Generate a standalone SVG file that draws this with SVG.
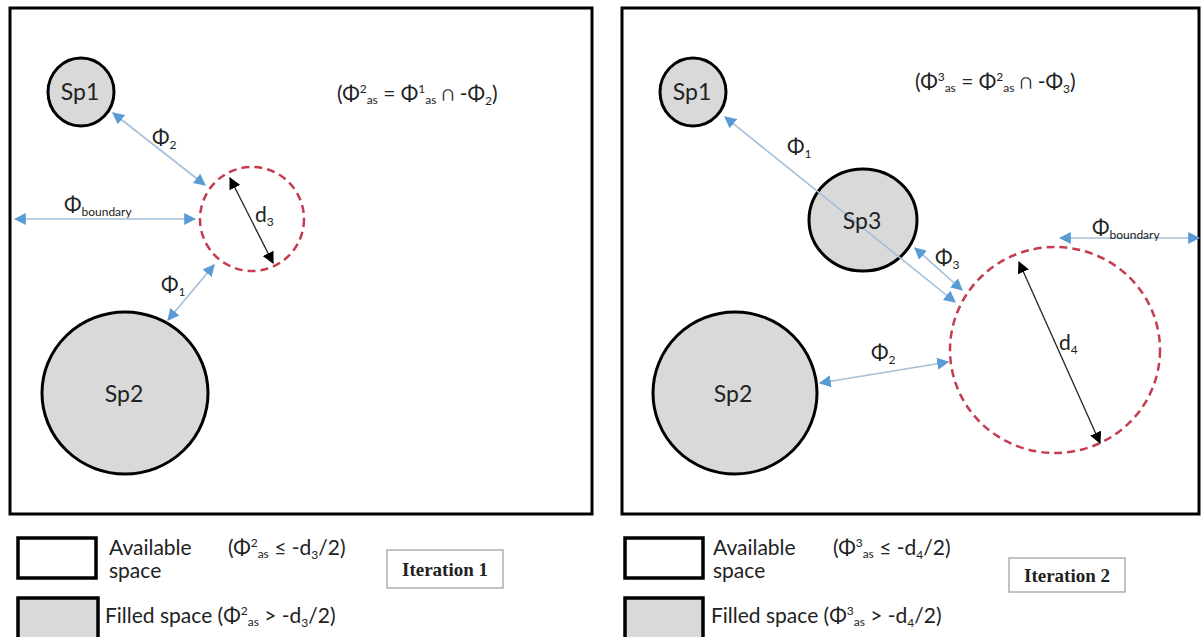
<svg xmlns="http://www.w3.org/2000/svg" width="1203" height="637" viewBox="0 0 1203 637">
<style>
.frame{fill:#fff;stroke:#000;stroke-width:3}
.sp{fill:#d9d9d9;stroke:#000;stroke-width:3}
.dash{fill:none;stroke:#c43c4f;stroke-width:2.5;stroke-dasharray:8 5}
.blue{stroke:#a3bfd9;stroke-width:1.6;fill:none;marker-start:url(#ab);marker-end:url(#ab)}
.blk{stroke:#222;stroke-width:1.3;fill:none;marker-start:url(#ak);marker-end:url(#ak)}
text{font-family:Lato,"Liberation Sans",sans-serif;fill:#222}
.nm{font-size:23px;text-anchor:middle}
.lb{font-size:21px}
.eq{font-size:21px}
.lg{font-size:21px}
.it{font-family:"Liberation Serif",serif;font-weight:bold;font-size:19px;text-anchor:middle}
.sub{font-size:12px}
.lgbox{fill:#fff;stroke:#000;stroke-width:3.5}
.itbox{fill:#fff;stroke:#999;stroke-width:1.2}
</style>
<defs>
<marker id="ab" viewBox="0 0 10 10" refX="9" refY="5" markerWidth="12" markerHeight="12" markerUnits="userSpaceOnUse" orient="auto-start-reverse"><path d="M0,0 L10,5 L0,10 Z" fill="#5b9bd5"/></marker>
<marker id="ak" viewBox="0 0 10 10" refX="9" refY="5" markerWidth="12" markerHeight="12" markerUnits="userSpaceOnUse" orient="auto-start-reverse"><path d="M0,0 L10,5 L0,10 Z" fill="#000"/></marker>
</defs>

<g id="panel1">
<rect class="frame" x="10" y="8" width="582" height="506"/>
<text class="eq" x="337" y="101">(Φ<tspan class="sub" dy="-8">2</tspan><tspan class="sub" dy="11">as</tspan><tspan dy="-3"> = Φ</tspan><tspan class="sub" dy="-8">1</tspan><tspan class="sub" dy="11">as</tspan><tspan dy="-3"> ∩ -Φ</tspan><tspan class="sub" dy="4">2</tspan><tspan dy="-4">)</tspan></text>
</g>
<g id="p1-sp1"><ellipse class="sp" cx="81" cy="92" rx="33" ry="34"/><text class="nm" x="80" y="100">Sp1</text></g>
<g id="p1-sp2"><ellipse class="sp" cx="125" cy="393" rx="83" ry="81"/><text class="nm" x="124" y="402">Sp2</text></g>
<g id="p1-new"><circle class="dash" cx="252" cy="219" r="52"/><text class="lb" x="255" y="222">d<tspan class="sub" dy="4">3</tspan></text></g>

<g id="panel2">
<rect class="frame" x="622" y="8" width="577" height="506"/>
<text class="eq" x="915" y="89">(Φ<tspan class="sub" dy="-8">3</tspan><tspan class="sub" dy="11">as</tspan><tspan dy="-3"> = Φ</tspan><tspan class="sub" dy="-8">2</tspan><tspan class="sub" dy="11">as</tspan><tspan dy="-3"> ∩ -Φ</tspan><tspan class="sub" dy="4">3</tspan><tspan dy="-4">)</tspan></text>
</g>
<g id="p2-sp1"><ellipse class="sp" cx="693" cy="92" rx="33" ry="34"/><text class="nm" x="692" y="100">Sp1</text></g>
<g id="p2-sp2"><ellipse class="sp" cx="735" cy="393" rx="82" ry="81"/><text class="nm" x="733" y="402">Sp2</text></g>
<g id="p2-sp3"><ellipse class="sp" cx="863" cy="220" rx="54" ry="51"/></g>
<g id="p2-new"><ellipse class="dash" cx="1055" cy="350" rx="105" ry="103"/><text class="lb" x="1059" y="350">d<tspan class="sub" dy="4">4</tspan></text></g>

<g id="connectors">
<line class="blue" x1="113" y1="113" x2="205" y2="185"/>
<line class="blue" x1="15" y1="219" x2="195" y2="219"/>
<line class="blue" x1="168" y1="320" x2="214" y2="265"/>
<line class="blk" x1="230" y1="178" x2="273" y2="263"/>
<line class="blue" x1="725" y1="117" x2="955" y2="302"/>
<line class="blue" x1="915" y1="248" x2="962" y2="290"/>
<line class="blue" x1="820" y1="383" x2="948" y2="362"/>
<line class="blue" x1="1060" y1="238" x2="1199" y2="238"/>
<line class="blk" x1="1019" y1="262" x2="1100" y2="443"/>
</g>
<g id="labels">
<text class="lb" x="152" y="145">Φ<tspan class="sub" dy="4">2</tspan></text>
<text class="lb" x="64" y="212">Φ<tspan class="sub" dy="4">boundary</tspan></text>
<text class="lb" x="161" y="292">Φ<tspan class="sub" dy="4">1</tspan></text>
<text class="nm" x="862" y="229">Sp3</text>
<text class="lb" x="787" y="154">Φ<tspan class="sub" dy="4">1</tspan></text>
<text class="lb" x="935" y="265">Φ<tspan class="sub" dy="4">3</tspan></text>
<text class="lb" x="871" y="360">Φ<tspan class="sub" dy="4">2</tspan></text>
<text class="lb" x="1092" y="235">Φ<tspan class="sub" dy="4">boundary</tspan></text>
</g>

<g id="legend1">
<rect class="lgbox" x="18" y="538" width="78" height="40"/>
<text class="lg" x="109" y="555">Available</text>
<text class="lg" x="109" y="578">space</text>
<text class="lg" x="228" y="555">(Φ<tspan class="sub" dy="-8">2</tspan><tspan class="sub" dy="11">as</tspan><tspan dy="-3"> ≤ -d</tspan><tspan class="sub" dy="4">3</tspan><tspan dy="-4">/2)</tspan></text>
<rect class="lgbox" x="18" y="598" width="80" height="45" style="fill:#d9d9d9"/>
<text class="lg" x="105" y="623">Filled space (Φ<tspan class="sub" dy="-8">2</tspan><tspan class="sub" dy="11">as</tspan><tspan dy="-3"> &gt; -d</tspan><tspan class="sub" dy="4">3</tspan><tspan dy="-4">/2)</tspan></text>
</g>
<g id="iter1"><rect class="itbox" x="387" y="550" width="116" height="38"/><text class="it" x="445" y="576">Iteration 1</text></g>

<g id="legend2">
<rect class="lgbox" x="625" y="538" width="78" height="40"/>
<text class="lg" x="713" y="555">Available</text>
<text class="lg" x="713" y="578">space</text>
<text class="lg" x="833" y="555">(Φ<tspan class="sub" dy="-8">3</tspan><tspan class="sub" dy="11">as</tspan><tspan dy="-3"> ≤ -d</tspan><tspan class="sub" dy="4">4</tspan><tspan dy="-4">/2)</tspan></text>
<rect class="lgbox" x="625" y="598" width="78" height="45" style="fill:#d9d9d9"/>
<text class="lg" x="711" y="623">Filled space (Φ<tspan class="sub" dy="-8">3</tspan><tspan class="sub" dy="11">as</tspan><tspan dy="-3"> &gt; -d</tspan><tspan class="sub" dy="4">4</tspan><tspan dy="-4">/2)</tspan></text>
</g>
<g id="iter2"><rect class="itbox" x="1009" y="558" width="116" height="34"/><text class="it" x="1067" y="582">Iteration 2</text></g>
</svg>
